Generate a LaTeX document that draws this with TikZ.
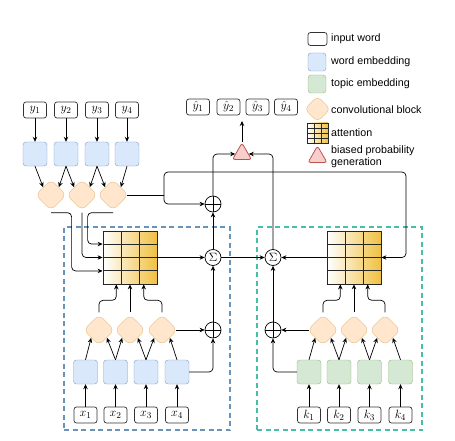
\documentclass[tikz,border=0pt]{standalone}
\usepackage{fontspec}
\setmainfont{Liberation Sans}
\usetikzlibrary{shapes.geometric,arrows.meta,calc}
\definecolor{wfill}{HTML}{DAE8FC}
\definecolor{wdraw}{HTML}{7C9CC9}
\definecolor{tfill}{HTML}{D5E8D4}
\definecolor{tdraw}{HTML}{8DBB79}
\definecolor{cfill}{HTML}{FFE6CC}
\definecolor{cdraw}{HTML}{E3BB80}
\definecolor{pfill}{HTML}{F8CECC}
\definecolor{pdraw}{HTML}{B85450}
\definecolor{gold}{HTML}{F0C040}
\definecolor{fblue}{HTML}{6A93BC}
\definecolor{fgreen}{HTML}{45C0A6}
\begin{document}
\begin{tikzpicture}[x=1pt,y=-1pt,
  word/.style={draw=black!80, rounded corners=2.5pt, minimum width=23pt, minimum height=16pt, inner sep=0pt, line width=0.7pt, font=\fontsize{12.5}{13}\selectfont},
  wemb/.style={draw=wdraw, fill=wfill, rounded corners=3pt, minimum size=24pt, inner sep=0pt},
  temb/.style={draw=tdraw, fill=tfill, rounded corners=3pt, minimum size=24pt, inner sep=0pt},
  conv/.style={diamond, draw=cdraw, fill=cfill, rounded corners=6pt, minimum width=31pt, minimum height=31pt, inner sep=0pt},
  prob/.style={regular polygon, regular polygon sides=3, draw=pdraw, fill=pfill, rounded corners=2.5pt, minimum size=22pt, inner sep=0pt, line width=0.8pt},
  oplus/.style={circle, draw, line width=0.7pt, minimum size=16pt, inner sep=0pt,
    path picture={\draw[line width=0.7pt] (path picture bounding box.north) -- (path picture bounding box.south) (path picture bounding box.west) -- (path picture bounding box.east);}},
  sig/.style={circle, draw, line width=0.7pt, minimum size=16pt, inner sep=0pt, font=\fontsize{12}{12}\selectfont},
  att/.style={draw=black!85, line width=0.8pt, left color=white, right color=gold, minimum width=54pt, minimum height=53pt, inner sep=0pt,
    path picture={
      \foreach \f in {0.3333,0.6667}
        \draw[black!85,line width=0.8pt] ($(path picture bounding box.north west)!\f!(path picture bounding box.north east)$) -- ($(path picture bounding box.south west)!\f!(path picture bounding box.south east)$);
      \foreach \f in {0.25,0.5,0.75}
        \draw[black!85,line width=0.8pt] ($(path picture bounding box.north west)!\f!(path picture bounding box.south west)$) -- ($(path picture bounding box.north east)!\f!(path picture bounding box.south east)$);
    }},
  frame/.style={dash pattern=on 5pt off 3.5pt, line width=1.3pt, inner sep=0pt},
  lab/.style={anchor=west, inner sep=0pt, font=\fontsize{10.7}{12.5}\selectfont, align=left},
  arr/.style={-{Stealth[length=5pt,width=4.5pt]}, line width=0.7pt, rounded corners=4pt},
  plain/.style={line width=0.7pt, rounded corners=4pt}
]
\useasboundingbox (0,0) rectangle (455,441);

% frames
\node[frame, draw=fblue, minimum width=166pt, minimum height=203pt] (frL) at (147,328.5) {};
\node[frame, draw=fgreen, minimum width=165pt, minimum height=203pt] (frR) at (339.5,328.5) {};

% legend
\node[word, minimum width=19pt, minimum height=13pt] (lgw) at (317.5,39) {};
\node[lab] (lgwt) at (331,39) {input word};
\node[wemb, minimum size=18pt] (lge) at (317,62) {};
\node[lab] (lget) at (331,62) {word embedding};
\node[temb, minimum size=18pt] (lgt) at (317,84) {};
\node[lab] (lgtt) at (331,84) {topic embedding};
\node[conv, minimum width=26pt, minimum height=26pt, rounded corners=5pt] (lgc) at (317.5,109) {};
\node[lab] (lgct) at (331,110) {convolutional block};
\node[att, minimum width=21pt, minimum height=20pt, line width=0.5pt] (lga) at (317.5,133) {};
\node[lab] (lgat) at (331,133) {attention};
\node[prob] (lgp) at (317.5,157) {};
\node[lab] (lgpt) at (331,156.5) {biased probability\\generation};

% top: target words
\node[word] (yb1) at (35,110) {$y_1$};
\node[word] (yb2) at (66,110) {$y_2$};
\node[word] (yb3) at (97,110) {$y_3$};
\node[word] (yb4) at (127,110) {$y_4$};
\node[wemb] (bT1) at (35,154) {};
\node[wemb] (bT2) at (66,154) {};
\node[wemb] (bT3) at (97,154) {};
\node[wemb] (bT4) at (127,154) {};
\node[conv] (dT1) at (51,195) {};
\node[conv] (dT2) at (82,195) {};
\node[conv] (dT3) at (113,195) {};
\foreach \i in {1,2,3,4} \draw[arr] (yb\i.south) -- (bT\i.north);
\draw[arr] (bT1.south) -- (dT1.north west);
\draw[arr] (bT2.south) -- (dT1.north east);
\draw[arr] (bT2.south) -- (dT2.north west);
\draw[arr] (bT3.south) -- (dT2.north east);
\draw[arr] (bT3.south) -- (dT3.north west);
\draw[arr] (bT4.south) -- (dT3.north east);

% outputs
\node[word] (yh1) at (198,107) {$\hat{y}_1$};
\node[word] (yh2) at (228.5,107) {$\hat{y}_2$};
\node[word] (yh3) at (257.5,107) {$\hat{y}_3$};
\node[word] (yh4) at (286,107) {$\hat{y}_4$};
\node[prob] (tri) at (242,154) {};
\coordinate (yout) at (242,121);
\draw[arr] (tri.north) -- (yout);

% left block
\node[att] (attL) at (130,257.5) {};
\node[sig] (sg1) at (213,257.5) {$\Sigma$};
\node[oplus] (op1) at (213,204) {};
\node[oplus] (op2) at (213,330) {};
\node[conv] (dL1) at (99,330) {};
\node[conv] (dL2) at (130,330) {};
\node[conv] (dL3) at (162,330) {};
\node[wemb] (bL1) at (85.5,372) {};
\node[wemb] (bL2) at (115.5,372) {};
\node[wemb] (bL3) at (146,372) {};
\node[wemb] (bL4) at (177,372) {};
\node[word] (xb1) at (85.5,415) {$x_1$};
\node[word] (xb2) at (115.5,415) {$x_2$};
\node[word] (xb3) at (146,415) {$x_3$};
\node[word] (xb4) at (177,415) {$x_4$};
\foreach \i in {1,2,3,4} \draw[arr] (xb\i.north) -- (bL\i.south);
\draw[arr] (bL1.north) -- (dL1.south west);
\draw[arr] (bL2.north) -- (dL1.south east);
\draw[arr] (bL2.north) -- (dL2.south west);
\draw[arr] (bL3.north) -- (dL2.south east);
\draw[arr] (bL3.north) -- (dL3.south west);
\draw[arr] (bL4.north) -- (dL3.south east);
\coordinate (gi1) at ($(attL.north west)!0.25!(attL.south west)$);
\coordinate (gi2) at ($(attL.north west)!0.5!(attL.south west)$);
\coordinate (gi3) at ($(attL.north west)!0.75!(attL.south west)$);
\coordinate (gb1) at ($(attL.south west)!0.25!(attL.south east)$);
\coordinate (gb2) at ($(attL.south west)!0.5!(attL.south east)$);
\coordinate (gb3) at ($(attL.south west)!0.75!(attL.south east)$);
\draw[arr] ([yshift=-2pt]dT1.south) -| ([xshift=-31pt]gi3) -- (gi3);
\draw[arr] ([yshift=-2pt]dT2.south) |- (gi2);
\draw[arr] ([yshift=-2pt]dT3.south) -| ([xshift=-15pt]gi1) -- (gi1);
\draw[arr] ([yshift=2pt]dL1.north) -- ++(0,-12) -| (gb1);
\draw[arr] ([yshift=2pt]dL2.north) -- (gb2);
\draw[arr] ([yshift=2pt]dL3.north) -- ++(0,-12) -| (gb3);
\draw[arr] ([xshift=-2pt]dL3.east) -- (op2.west);
\draw[arr] (bL4.east) -| (op2.south);
\draw[arr] (op2.north) -- (sg1.south);
\draw[arr] (attL.east) -- (sg1.west);
\draw[arr] (sg1.north) -- (op1.south);

% right block
\node[att] (attR) at (354,257.5) {};
\node[sig] (sg2) at (273,257.5) {$\Sigma$};
\node[oplus] (op3) at (273,330) {};
\node[conv] (dG1) at (323,330) {};
\node[conv] (dG2) at (354,330) {};
\node[conv] (dG3) at (385,330) {};
\node[temb] (gB1) at (309,372) {};
\node[temb] (gB2) at (339,372) {};
\node[temb] (gB3) at (369.5,372) {};
\node[temb] (gB4) at (400.5,372) {};
\node[word] (kb1) at (309,415) {$k_1$};
\node[word] (kb2) at (339,415) {$k_2$};
\node[word] (kb3) at (369.5,415) {$k_3$};
\node[word] (kb4) at (400.5,415) {$k_4$};
\foreach \i in {1,2,3,4} \draw[arr] (kb\i.north) -- (gB\i.south);
\draw[arr] (gB1.north) -- (dG1.south west);
\draw[arr] (gB2.north) -- (dG1.south east);
\draw[arr] (gB2.north) -- (dG2.south west);
\draw[arr] (gB3.north) -- (dG2.south east);
\draw[arr] (gB3.north) -- (dG3.south west);
\draw[arr] (gB4.north) -- (dG3.south east);
\coordinate (hb1) at ($(attR.south west)!0.25!(attR.south east)$);
\coordinate (hb2) at ($(attR.south west)!0.5!(attR.south east)$);
\coordinate (hb3) at ($(attR.south west)!0.75!(attR.south east)$);
\draw[arr] ([yshift=2pt]dG1.north) -- ++(0,-12) -| (hb1);
\draw[arr] ([yshift=2pt]dG2.north) -- (hb2);
\draw[arr] ([yshift=2pt]dG3.north) -- ++(0,-12) -| (hb3);
\draw[arr] ([xshift=2pt]dG1.west) -- (op3.east);
\draw[arr] (gB1.west) -| (op3.south);
\draw[arr] (op3.north) -- (sg2.south);
\draw[arr] (attR.west) -- (sg2.east);
\draw[arr] (sg1.east) -- (sg2.west);

% top connections
\coordinate (br) at (164,195);
\draw[plain] ([xshift=-2pt]dT3.east) -- (br);
\draw[arr] (br) |- (406,172) |- (attR.east);
\draw[arr] (br) |- (op1.west);
\draw[arr] (op1.north) |- (tri.west);
\draw[arr] (sg2.north) |- (tri.east);
\end{tikzpicture}
\end{document}
